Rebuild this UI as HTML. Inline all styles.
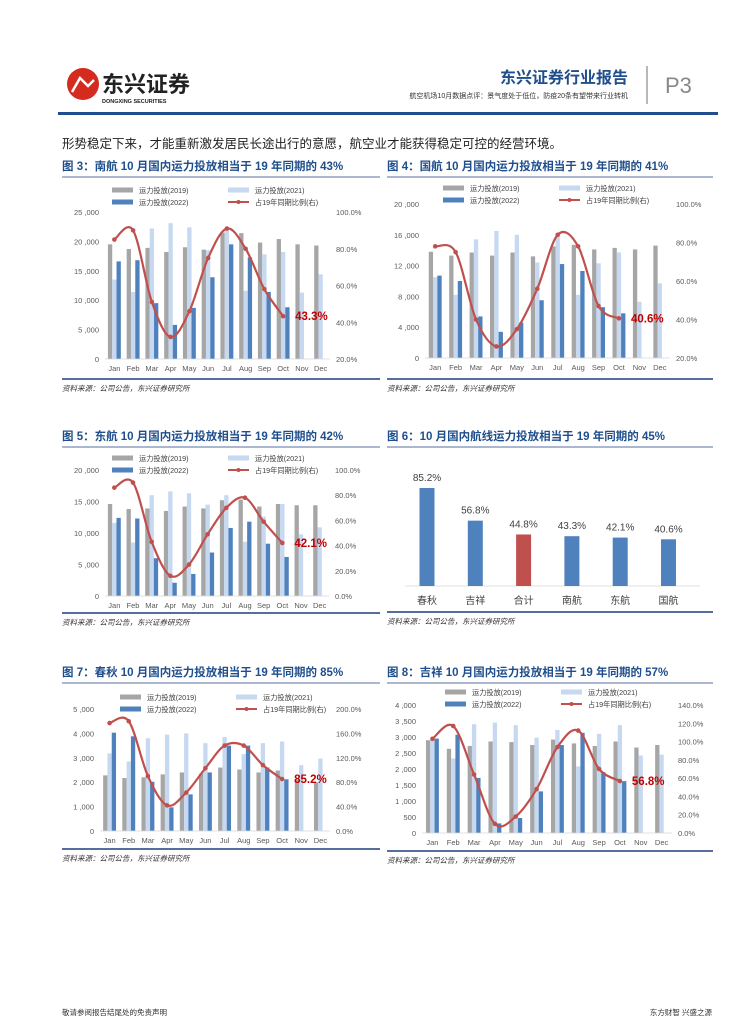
<!DOCTYPE html>
<html><head><meta charset="utf-8"><style>
body{margin:0;background:#fff;}
svg{display:block;font-family:"Liberation Sans","Noto Sans CJK SC",sans-serif;}
</style></head><body>
<svg id="pg" width="755" height="1024" viewBox="0 0 755 1024">
<g>
<circle cx="83" cy="84" r="16" fill="#d52b1e"/>
<path d="M72 92 L80 78 L88 86 L94 80" stroke="#fff" stroke-width="2.5" fill="none"/>
<text x="102" y="92" font-size="22" font-weight="bold" fill="#222">东兴证券</text>
<text x="102" y="103" font-size="5.5" font-weight="bold" fill="#222">DONGXING SECURITIES</text>
<text x="628" y="83" font-size="16" font-weight="bold" fill="#1f4e8c" text-anchor="end">东兴证券行业报告</text>
<text x="628" y="98" font-size="7" fill="#333" text-anchor="end">航空机场10月数据点评：景气度处于低位，防疫20条有望带来行业转机</text>
<line x1="647" y1="66" x2="647" y2="104" stroke="#888" stroke-width="1.2"/>
<text x="665" y="93" font-size="22" fill="#888">P3</text>
<rect x="58" y="112" width="660" height="3" fill="#1f4e8c"/>
<text x="62" y="148" font-size="12.5" fill="#222">形势稳定下来，才能重新激发居民长途出行的意愿，航空业才能获得稳定可控的经营环境。</text>
</g>
<g id="charts"></g>
<g>
<text x="62" y="1015" font-size="7.5" fill="#333">敬请参阅报告结尾处的免责声明</text>
<text x="712" y="1015" font-size="7.5" fill="#333" text-anchor="end">东方财智 兴盛之源</text>
</g>
</svg>
<script>
const months=['Jan','Feb','Mar','Apr','May','Jun','Jul','Aug','Sep','Oct','Nov','Dec'];
// chart 3 南航
const cs3_2019=[19.5,18.7,18.9,18.2,19.0,18.6,21.5,21.4,19.8,20.4,19.5,19.3];
const cs3_2021=[13.5,11.4,22.2,23.1,22.4,18.5,22.0,11.6,17.8,18.2,11.3,14.4];
const cs3_2022=[16.6,16.8,9.5,5.8,8.7,13.9,19.5,17.3,11.4,8.8,null,null];
const cs3_ratio=[85,90,51,32,46,75,91,80,58,43.3];
// chart 4 国航
const ca4_2019=[13.8,13.3,13.7,13.3,13.7,13.2,14.5,14.7,14.1,14.3,14.1,14.6];
const ca4_2021=[10.5,8.2,15.4,16.5,16.0,12.4,15.8,8.2,12.3,13.7,7.3,9.7];
const ca4_2022=[10.7,10.0,5.4,3.4,4.6,7.5,12.2,11.3,6.6,5.8,null,null];
const ca4_ratio=[78,75,40,26,35,56,84,78,47,40.6];
// chart 5 东航
const me5_2019=[14.6,13.8,13.9,13.5,14.2,13.9,15.2,15.3,14.2,14.6,14.4,14.4];
const me5_2021=[11.6,8.5,16.0,16.6,16.3,14.5,16.0,8.6,12.6,14.6,9.8,10.9];
const me5_2022=[12.4,12.3,6.0,2.1,3.5,6.9,10.8,11.8,8.3,6.2,null,null];
const me5_ratio=[86,90,43,16,25,49,70,78,59,42.1];
// chart 7 春秋
const cq7_2019=[2.28,2.17,2.2,2.32,2.4,2.35,2.6,2.52,2.4,2.48,2.1,2.0];
const cq7_2021=[3.18,2.85,3.8,3.95,4.0,3.6,3.85,3.15,3.6,3.67,2.7,2.97];
const cq7_2022=[4.03,3.88,2.02,0.97,1.5,2.4,3.5,3.5,2.6,2.12,null,null];
const cq7_ratio=[177,180,90,42,63,103,140,140,108,85.2];
// chart 8 吉祥
const jx8_2019=[2.9,2.63,2.72,2.86,2.84,2.75,2.92,2.8,2.72,2.86,2.67,2.75];
const jx8_2021=[2.9,2.33,3.4,3.45,3.37,2.98,3.22,2.08,3.1,3.37,2.42,2.45];
const jx8_2022=[2.95,3.07,1.72,0.3,0.47,1.3,2.75,3.13,1.9,1.62,null,null];
const jx8_ratio=[103,117,64,10,18,48,94,112,70,56.8];
// chart 6
const c6_names=['春秋','吉祥','合计','南航','东航','国航'];
const c6_values=[85.2,56.8,44.8,43.3,42.1,40.6];
const c6_ticks=['85.2%','56.8%','44.8%','43.3%','42.1%','40.6%'];

const NS='http://www.w3.org/2000/svg';
const root=document.getElementById('charts');
function mk(tag,attrs,parent,txt){const e=document.createElementNS(NS,tag);for(const k in attrs)e.setAttribute(k,attrs[k]);if(txt!==undefined)e.textContent=txt;(parent||root).appendChild(e);return e;}
function fmt(v){return v.toLocaleString('en-US').replace(/,/g,' ,');}
function smooth(pts){let d='M'+pts[0][0]+' '+pts[0][1];for(let i=0;i<pts.length-1;i++){const p0=pts[i-1]||pts[i],p1=pts[i],p2=pts[i+1],p3=pts[i+2]||p2;const c1=[p1[0]+(p2[0]-p0[0])/6,p1[1]+(p2[1]-p0[1])/6],c2=[p2[0]-(p3[0]-p1[0])/6,p2[1]-(p3[1]-p1[1])/6];d+=' C'+c1+' '+c2+' '+p2;}return d;}

function frame(x,y,w,title,bottomY,name){
  const g=mk('g',{});
  
  
  const t=mk('text',{x:x,y:y+4,'font-size':11.5,'font-weight':'bold',fill:'#1f4e8c'},g,title);
  
  
  mk('line',{x1:x,y1:y+11,x2:x+w,y2:y+11,stroke:'#1f3f7f','stroke-width':0.8},g);
  mk('line',{x1:x,y1:bottomY,x2:x+w,y2:bottomY,stroke:'#1f3f7f','stroke-width':1.5},g);
  const s=mk('text',{x:x,y:bottomY+12,'font-size':7.5,'font-style':'italic',fill:'#333'},g,'资料来源：公司公告，东兴证券研究所');
  
  
  return g;
}

function combo(c){
  const g=frame(c.fx,c.fy,c.fw,c.title,c.bottom,c.name);
  const L=c.L,R=c.R,T=c.T,B=c.B,gw=(R-L)/12;
  const ys=v=>B-(v/c.lmax)*(B-T);
  const yr=v=>B-((v-c.rmin)/(c.rmax-c.rmin))*(B-T);
  const xc=i=>L+(i+0.5)*gw;
  const lt=c.lticks;
  for(let i=0;i<=lt;i++){const v=c.lmax*1000*i/lt;const tl=mk('text',{x:L-6,y:ys(v/1000)+3,'font-size':7.5,fill:'#595959','text-anchor':'end'},g,fmt(v));
    
    }
  for(let i=0;i<=c.rt;i++){const v=c.rmin+(c.rmax-c.rmin)*i/c.rt;const tr=mk('text',{x:R+6,y:yr(v)+3,'font-size':7.5,fill:'#595959'},g,v.toFixed(1)+'%');
    
    }
  const bw=4.3;
  const ser=[[c.s19,'#a6a6a6','bar-2019'],[c.s21,'#c6d9f1','bar-2021'],[c.s22,'#4f81bd','bar-2022']];
  ser.forEach((s,k)=>{s[0].forEach((v,i)=>{if(v==null)return;const r=mk('rect',{x:xc(i)-1.5*bw+k*bw,y:ys(v),width:bw,height:B-ys(v),fill:s[1]},g);
    
    });});
  mk('line',{x1:L,y1:B,x2:R,y2:B,stroke:'#d9d9d9','stroke-width':0.8},g);
  months.forEach((m,i)=>{const t=mk('text',{x:xc(i),y:B+12,'font-size':7.5,fill:'#595959','text-anchor':'middle'},g,m);
    
    });
  const pts=c.ratio.map((v,i)=>[+xc(i).toFixed(2),+yr(v).toFixed(2)]);
  const ln=mk('path',{d:smooth(pts),fill:'none',stroke:'#c0504d','stroke-width':2.2},g);
  
  
  pts.forEach(p=>{const d=mk('circle',{cx:p[0],cy:p[1],r:2.3,fill:'#c0504d'},g);
    
    });
  const last=pts[pts.length-1];
  const lb=mk('text',{x:last[0]+12,y:last[1]+4,'font-size':11.5,'font-weight':'bold',fill:'#c00000'},g,c.ratio[c.ratio.length-1].toFixed(1)+'%');
  
  
  // legend
  const lx1=c.lgx,lx2=c.lgx+116,ly1=c.lgy,ly2=c.lgy+12;
  const lg=mk('g',{},g);
  
  
  mk('rect',{x:lx1,y:ly1-2.5,width:21,height:5,fill:'#a6a6a6'},lg);
  mk('text',{x:lx1+27,y:ly1+3,'font-size':7.2,fill:'#404040'},lg,'运力投放(2019)');
  mk('rect',{x:lx2,y:ly1-2.5,width:21,height:5,fill:'#c6d9f1'},lg);
  mk('text',{x:lx2+27,y:ly1+3,'font-size':7.2,fill:'#404040'},lg,'运力投放(2021)');
  mk('rect',{x:lx1,y:ly2-2.5,width:21,height:5,fill:'#4f81bd'},lg);
  mk('text',{x:lx1+27,y:ly2+3,'font-size':7.2,fill:'#404040'},lg,'运力投放(2022)');
  mk('line',{x1:lx2,y1:ly2,x2:lx2+21,y2:ly2,stroke:'#c0504d','stroke-width':2},lg);
  mk('circle',{cx:lx2+10.5,cy:ly2,r:2,fill:'#c0504d'},lg);
  mk('text',{x:lx2+27,y:ly2+3,'font-size':7.2,fill:'#404040'},lg,'占19年同期比例(右)');
}

combo({name:'chart-china-southern',title:'图 3：南航 10 月国内运力投放相当于 19 年同期的 43%',fx:62,fy:166,fw:318,bottom:379,
 L:105,R:330,T:212,B:359,lmax:25,lticks:5,rmin:20,rmax:100,rt:4,s19:cs3_2019,s21:cs3_2021,s22:cs3_2022,ratio:cs3_ratio,lgx:112,lgy:190});
combo({name:'chart-air-china',title:'图 4：国航 10 月国内运力投放相当于 19 年同期的 41%',fx:387,fy:166,fw:326,bottom:379,
 L:425,R:670,T:204,B:358,lmax:20,lticks:5,rmin:20,rmax:100,rt:4,s19:ca4_2019,s21:ca4_2021,s22:ca4_2022,ratio:ca4_ratio,lgx:443,lgy:188});
combo({name:'chart-china-eastern',title:'图 5：东航 10 月国内运力投放相当于 19 年同期的 42%',fx:62,fy:436,fw:318,bottom:613,
 L:105,R:329,T:470,B:596,lmax:20,lticks:4,rmin:0,rmax:100,rt:5,s19:me5_2019,s21:me5_2021,s22:me5_2022,ratio:me5_ratio,lgx:112,lgy:458});
combo({name:'chart-spring-airlines',title:'图 7：春秋 10 月国内运力投放相当于 19 年同期的 85%',fx:62,fy:672,fw:318,bottom:849,
 L:100,R:330,T:709,B:831,lmax:5,lticks:5,rmin:0,rmax:200,rt:5,s19:cq7_2019,s21:cq7_2021,s22:cq7_2022,ratio:cq7_ratio,lgx:120,lgy:697});
combo({name:'chart-juneyao',title:'图 8：吉祥 10 月国内运力投放相当于 19 年同期的 57%',fx:387,fy:672,fw:326,bottom:851,
 L:422,R:672,T:705,B:833,lmax:4,lticks:8,rmin:0,rmax:140,rt:7,s19:jx8_2019,s21:jx8_2021,s22:jx8_2022,ratio:jx8_ratio,lgx:445,lgy:692});

(function(){
  const g=frame(387,436,326,'图 6：10 月国内航线运力投放相当于 19 年同期的 45%',612,'chart-domestic-ratio');
  const B=586,k=98/85.2,x0=427,step=48.3,bw=15;
  mk('line',{x1:405,y1:B,x2:700,y2:B,stroke:'#d9d9d9','stroke-width':0.8},g);
  c6_values.forEach((v,i)=>{const x=x0+i*step;
    const r=mk('rect',{x:x-bw/2,y:B-v*k,width:bw,height:v*k,fill:c6_names[i]==='合计'?'#c0504d':'#4f81bd'},g);
    
    
    const t=mk('text',{x:x,y:B-v*k-7,'font-size':10,fill:'#404040','text-anchor':'middle'},g,c6_ticks[i]);
    
    
    const n=mk('text',{x:x,y:B+18,'font-size':10,fill:'#404040','text-anchor':'middle'},g,c6_names[i]);
    
    
  });
})();
</script>
</body></html>
